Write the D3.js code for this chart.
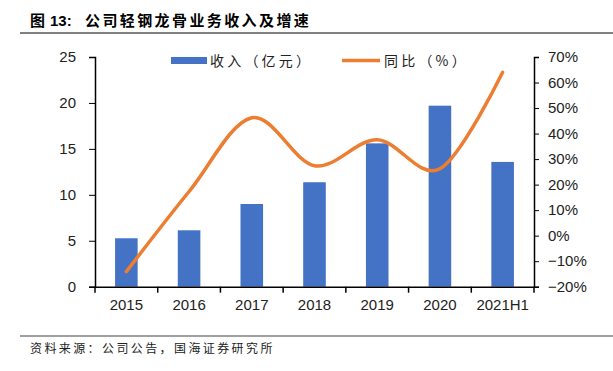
<!DOCTYPE html>
<html>
<head>
<meta charset="utf-8">
<script src="https://cdn.jsdelivr.net/npm/d3@7"></script>
<style>
  body { margin: 0; background: #fff; }
  svg { display: block; font-family: "Liberation Sans", Arial, "Noto Sans CJK SC", sans-serif; }
</style>
</head>
<body>
<div id="chart"></div>
<script>
const width = 613;
const height = 371;

const years = ["2015", "2016", "2017", "2018", "2019", "2020", "2021H1"];
const revenue = [5.27, 6.14, 9.0, 11.37, 15.6, 19.7, 13.58];
const growth = [-14.1, 17.3, 46.2, 27.4, 37.6, 26.2, 64.0];
const leftTicks = [0, 5, 10, 15, 20, 25];
const rightTicks = [-20, -10, 0, 10, 20, 30, 40, 50, 60, 70];

const margin = { top: 57, right: 79, bottom: 84, left: 95 };

const svg = d3.select("#chart")
  .append("svg")
  .attr("width", width)
  .attr("height", height);

// title: "图 13：" then the rest spaced out
const title = svg.append("text")
  .attr("y", 26)
  .attr("font-weight", "bold")
  .attr("font-size", 15)
  .attr("fill", "#000");
title.append("tspan")
  .attr("x", 30)
  .attr("font-family", "'Noto Sans CJK SC', sans-serif")
  .text("图");
title.append("tspan")
  .attr("x", 50)
  .attr("font-family", "'Liberation Sans', Arial, sans-serif")
  .text("13:");
title.append("tspan")
  .attr("x", 85)
  .attr("font-family", "'Noto Sans CJK SC', sans-serif")
  .attr("letter-spacing", 2.4)
  .text("公司轻钢龙骨业务收入及增速");

svg.append("line")
  .attr("x1", 20).attr("x2", width)
  .attr("y1", 33).attr("y2", 33)
  .attr("stroke", "#808080")
  .attr("stroke-width", 2);

svg.append("line")
  .attr("x1", 20).attr("x2", width)
  .attr("y1", 336).attr("y2", 336)
  .attr("stroke", "#808080")
  .attr("stroke-width", 1.5);

svg.append("text")
  .attr("x", 30)
  .attr("y", 353)
  .attr("font-family", "'Noto Sans CJK SC', sans-serif")
  .attr("font-size", 12)
  .attr("letter-spacing", 2.4)
  .attr("fill", "#222")
  .text("资料来源：公司公告，国海证券研究所");

const x = d3.scaleBand()
  .domain(years)
  .range([margin.left, width - margin.right])
  .paddingInner(0)
  .paddingOuter(0);

const y = d3.scaleLinear()
  .domain([0, 25])
  .range([height - margin.bottom - 0.3, margin.top]);

const y2 = d3.scaleLinear()
  .domain([-20, 70])
  .range([height - margin.bottom - 0.3, margin.top]);

const barW = x.bandwidth() * 0.36;

svg.append("g")
  .selectAll("rect")
  .data(years)
  .join("rect")
  .attr("x", (d) => x(d) + x.bandwidth() / 2 - barW / 2)
  .attr("y", (d, i) => y(revenue[i]))
  .attr("width", barW)
  .attr("height", (d, i) => y(0) - y(revenue[i]))
  .attr("fill", "#4472C4");

const line = d3.line()
  .x((d, i) => x(years[i]) + x.bandwidth() / 2)
  .y((d) => y2(d))
  .curve(d3.curveCatmullRom.alpha(0));

svg.append("path")
  .datum(growth)
  .attr("d", line)
  .attr("fill", "none")
  .attr("stroke", "#ED7D31")
  .attr("stroke-width", 3.5)
  .attr("stroke-linecap", "round");

// axes
const axisFont = (g) => g.selectAll("text")
  .attr("font-family", "'Liberation Sans', Arial, sans-serif")
  .attr("font-size", 15)
  .attr("fill", "#222");

const gLeft = svg.append("g")
  .attr("transform", `translate(${margin.left},0)`)
  .call(d3.axisLeft(y).tickValues(leftTicks).tickSize(6).tickPadding(13));
gLeft.call(axisFont);

const gRight = svg.append("g")
  .attr("transform", `translate(${width - margin.right},0)`)
  .call(d3.axisRight(y2).tickValues(rightTicks).tickSize(5).tickPadding(9)
    .tickFormat((d) => (d < 0 ? "\u2212" + Math.abs(d) : d) + "%"));
gRight.call(axisFont);

const gBottom = svg.append("g")
  .attr("transform", `translate(0,${y(0)})`)
  .call(d3.axisBottom(x).tickSize(0).tickPadding(13));
gBottom.call(axisFont);

// boundary ticks on the category axis
svg.append("g")
  .selectAll("line")
  .data(years.concat(["end"]))
  .join("line")
  .attr("x1", (d, i) => margin.left + i * x.step())
  .attr("x2", (d, i) => margin.left + i * x.step())
  .attr("y1", y(0))
  .attr("y2", y(0) + 6)
  .attr("stroke", "#000")
  .attr("stroke-width", 1.5);

svg.selectAll(".domain").attr("stroke", "#000").attr("stroke-width", 1.5);
svg.selectAll(".tick line").attr("stroke", "#000");

// legend
const legend = svg.append("g")
  .attr("font-family", "'Noto Sans CJK SC', sans-serif")
  .attr("font-size", 14)
  .attr("letter-spacing", 3.2)
  .attr("fill", "#222");

legend.append("rect")
  .attr("x", 171).attr("y", 57)
  .attr("width", 36).attr("height", 7)
  .attr("fill", "#4472C4");
legend.append("text")
  .attr("x", 210).attr("y", 66)
  .text("收入（亿元）");

legend.append("line")
  .attr("x1", 342).attr("x2", 380)
  .attr("y1", 60.5).attr("y2", 60.5)
  .attr("stroke", "#ED7D31")
  .attr("stroke-width", 3.5);
legend.append("text")
  .attr("x", 384).attr("y", 66)
  .text("同比（%）");
</script>
</body>
</html>
